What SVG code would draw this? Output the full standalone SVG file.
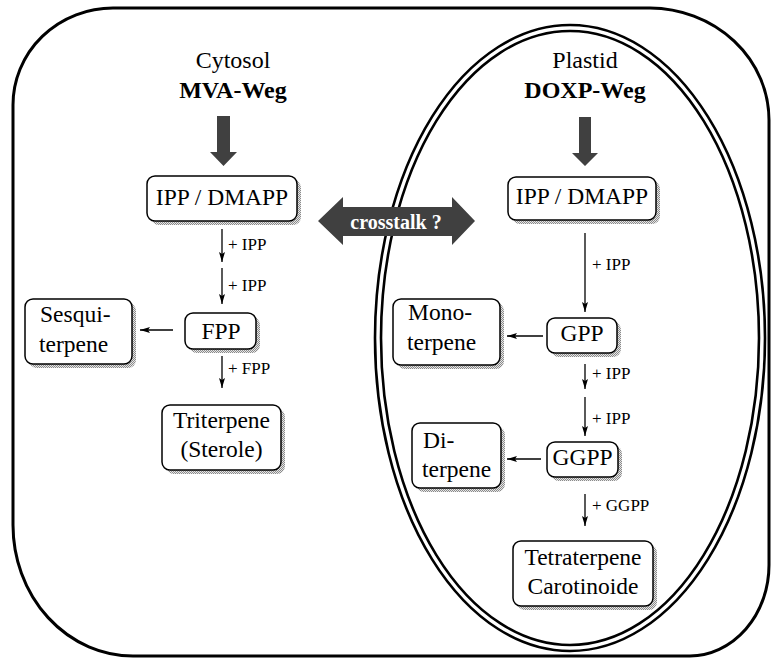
<svg xmlns="http://www.w3.org/2000/svg" width="771" height="659" viewBox="0 0 771 659">
<defs>
<pattern id="dots" width="2" height="2" patternUnits="userSpaceOnUse">
<rect width="2" height="2" fill="#e6e6e6"/>
<rect width="1" height="1" fill="#8a8a8a"/>
<rect x="1" y="1" width="1" height="1" fill="#8a8a8a"/>
</pattern>
<marker id="ah" viewBox="0 0 10 10" refX="10" refY="5" markerWidth="10" markerHeight="10" markerUnits="userSpaceOnUse" orient="auto">
<path d="M0,2 L10,5 L0,8 L2,5 Z" fill="#000"/>
</marker>
</defs>
<style>
.t{font-family:"Liberation Serif","Times New Roman",serif;fill:#000}
.n{font-size:23.5px}
.hd{font-size:24px}
.b{font-weight:bold}
.lb{font-size:17px}
.box{fill:#fff;stroke:#000;stroke-width:1.5}
.sh{fill:url(#dots)}
.c{stroke:#000;stroke-width:1.3;fill:none;marker-end:url(#ah)}
.big{fill:#404040}
</style>
<rect width="771" height="659" fill="#fff"/>
<g id="cell">
<path d="M 13,105 A 100,97 0 0 1 113,8 L 650,8 A 120,112 0 0 1 769,120 L 769,565 A 80,91 0 0 1 690,656 L 133,656 A 120,131 0 0 1 13,525 Z" fill="none" stroke="#000" stroke-width="3"/>
</g>
<g id="plastid">
<ellipse cx="570" cy="338" rx="195" ry="313" fill="none" stroke="#000" stroke-width="2.6"/>
<ellipse cx="570" cy="338" rx="189" ry="307" fill="none" stroke="#000" stroke-width="2.6"/>
</g>
<g id="header-left">
<text class="t hd" x="233" y="68" text-anchor="middle">Cytosol</text>
<text class="t hd b" x="233" y="98" text-anchor="middle">MVA-Weg</text>
</g>
<g id="header-right">
<text class="t hd" x="585" y="68" text-anchor="middle">Plastid</text>
<text class="t hd b" x="585" y="98" text-anchor="middle">DOXP-Weg</text>
</g>
<g id="ipp-left">
<rect class="sh" x="151" y="180" width="150" height="45" rx="8"/>
<rect class="box" x="147" y="176" width="150" height="45" rx="8"/>
<text class="t n" x="222" y="205" text-anchor="middle">IPP / DMAPP</text>
</g>
<g id="fpp">
<rect class="sh" x="189" y="317" width="71" height="36" rx="8"/>
<rect class="box" x="185" y="313" width="71" height="36" rx="8"/>
<text class="t n" x="221" y="339" text-anchor="middle">FPP</text>
</g>
<g id="sesqui">
<rect class="sh" x="29" y="303" width="107" height="65" rx="8"/>
<rect class="box" x="25" y="299" width="107" height="65" rx="8"/>
<text class="t n" x="40" y="322">Sesqui-</text>
<text class="t n" x="39" y="352">terpene</text>
</g>
<g id="triterpene">
<rect class="sh" x="166" y="409" width="119" height="65" rx="8"/>
<rect class="box" x="162" y="405" width="119" height="65" rx="8"/>
<text class="t n" x="221.5" y="428" text-anchor="middle">Triterpene</text>
<text class="t n" x="221.5" y="457" text-anchor="middle">(Sterole)</text>
</g>
<g id="ipp-right">
<rect class="sh" x="512" y="181" width="148" height="43" rx="8"/>
<rect class="box" x="508" y="177" width="148" height="43" rx="8"/>
<text class="t n" x="582" y="204" text-anchor="middle">IPP / DMAPP</text>
</g>
<g id="gpp">
<rect class="sh" x="551" y="322" width="70" height="35" rx="8"/>
<rect class="box" x="547" y="318" width="70" height="35" rx="8"/>
<text class="t n" x="582" y="341" text-anchor="middle">GPP</text>
</g>
<g id="mono">
<rect class="sh" x="397" y="303" width="107" height="66" rx="8"/>
<rect class="box" x="393" y="299" width="107" height="66" rx="8"/>
<text class="t n" x="408" y="320">Mono-</text>
<text class="t n" x="407" y="350">terpene</text>
</g>
<g id="ggpp">
<rect class="sh" x="551" y="446" width="71" height="35" rx="8"/>
<rect class="box" x="547" y="442" width="71" height="35" rx="8"/>
<text class="t n" x="582.5" y="465" text-anchor="middle">GGPP</text>
</g>
<g id="di">
<rect class="sh" x="416" y="427" width="89" height="65" rx="8"/>
<rect class="box" x="412" y="423" width="89" height="65" rx="8"/>
<text class="t n" x="423" y="448">Di-</text>
<text class="t n" x="422" y="477">terpene</text>
</g>
<g id="tetraterpene">
<rect class="sh" x="517" y="545" width="140" height="65" rx="8"/>
<rect class="box" x="513" y="541" width="140" height="65" rx="8"/>
<text class="t n" x="583" y="565" text-anchor="middle">Tetraterpene</text>
<text class="t n" x="583" y="594" text-anchor="middle">Carotinoide</text>
</g>
<g id="crosstalk">
<polygon class="big" points="318,221 343,197 343,207 452,207 452,197 475,221 452,245 452,236 343,236 343,245"/>
<text class="t b" x="396" y="229" text-anchor="middle" font-size="20" style="fill:#fff">crosstalk ?</text>
</g>
<g id="connectors">
<polygon class="big" points="217,116 230,116 230,152 237,152 223.5,166 210,152 217,152"/>
<polygon class="big" points="579,117 591,117 591,153 598,153 585,166 572,153 579,153"/>
<line class="c" x1="222" y1="229" x2="222" y2="262"/>
<line class="c" x1="222" y1="268" x2="222" y2="304"/>
<line class="c" x1="173" y1="330" x2="140" y2="330"/>
<line class="c" x1="222" y1="356" x2="222" y2="388"/>
<line class="c" x1="585" y1="233" x2="585" y2="312"/>
<line class="c" x1="543" y1="336" x2="507" y2="336"/>
<line class="c" x1="585" y1="364" x2="585" y2="389"/>
<line class="c" x1="585" y1="397" x2="585" y2="436"/>
<line class="c" x1="541" y1="459" x2="507" y2="459"/>
<line class="c" x1="585" y1="494" x2="585" y2="526"/>
<text class="t lb" x="228" y="250">+ IPP</text>
<text class="t lb" x="228" y="291">+ IPP</text>
<text class="t lb" x="228" y="374">+ FPP</text>
<text class="t lb" x="592" y="270">+ IPP</text>
<text class="t lb" x="592" y="379">+ IPP</text>
<text class="t lb" x="592" y="424">+ IPP</text>
<text class="t lb" x="592" y="511">+ GGPP</text>
</g>
</svg>
